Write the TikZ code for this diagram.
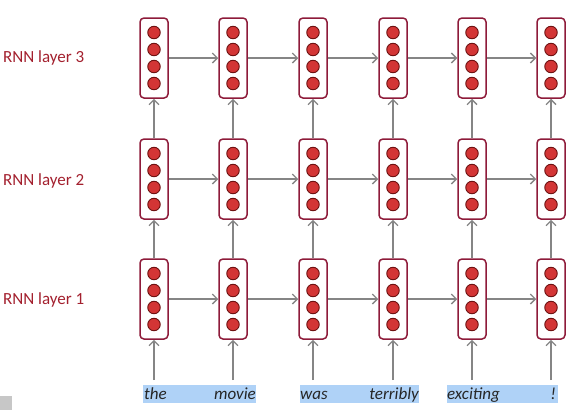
\documentclass[tikz,border=0pt]{standalone}
\usepackage{fontspec}
\setmainfont{Carlito}
\usetikzlibrary{arrows.meta}
\definecolor{boxred}{HTML}{8E1B3A}
\definecolor{dotred}{HTML}{D33535}
\definecolor{dotedge}{HTML}{6E1212}
\definecolor{labred}{HTML}{A3202E}
\definecolor{arrgray}{HTML}{858585}
\definecolor{hlblue}{HTML}{AFD2F7}
\tikzset{
  cellbox/.style={draw=boxred, line width=1.5pt, rounded corners=4pt, fill=white,
    minimum width=28pt, minimum height=80pt, inner sep=0pt},
  dot/.style={circle, draw=dotedge, line width=0.9pt, fill=dotred, minimum size=12.5pt, inner sep=0pt},
  conn/.style={draw=arrgray, line width=1.3pt, -{Straight Barb[length=5pt,width=10pt]}},
  layerlab/.style={text=labred, font=\fontsize{17}{19}\selectfont, anchor=west, inner sep=0pt},
  word/.style={font=\fontsize{17}{19}\selectfont\itshape, inner sep=0pt, text=black!85},
  hl/.style={fill=hlblue, draw=none}
}
\begin{document}
\begin{tikzpicture}[x=1pt,y=-1pt]
\useasboundingbox (0,0) rectangle (582,410);
% highlight bars
\fill[hlblue] (143,385) rectangle (256,403);
\fill[hlblue] (300,385) rectangle (419,403);
\fill[hlblue] (447,385) rectangle (558,403);
% words
\node[word, anchor=base west] (w1) at (144,399) {the};
\node[word, anchor=base east] (w2) at (256,399) {movie};
\node[word, anchor=base west] (w3) at (300,399) {was};
\node[word, anchor=base east] (w4) at (419,399) {terribly};
\node[word, anchor=base west] (w5) at (447,399) {exciting};
\node[word, anchor=base east] (w6) at (556,399) {!};
% layer labels
\node[layerlab] (l3) at (3,58) {RNN layer 3};
\node[layerlab] (l2) at (3,181) {RNN layer 2};
\node[layerlab] (l1) at (3,300) {RNN layer 1};
% boxes
\foreach \c/\x in {1/154,2/233,3/313,4/393,5/472,6/551}{
  \foreach \l/\y in {1/299,2/179,3/58}{
    \node[cellbox] (b\l\c) at (\x,\y) {};
    \foreach \k/\dy in {1/-25.5,2/-8.5,3/8.5,4/25.5}{
      \node[dot] (d\l\c\k) at (\x,\y+\dy) {};
    }
  }
  \coordinate (in\c) at (\x,380);
  \draw[conn] (in\c) -- (b1\c.south);
  \draw[conn] (b1\c.north) -- (b2\c.south);
  \draw[conn] (b2\c.north) -- (b3\c.south);
}
\foreach \l in {1,2,3}{
  \foreach \c [evaluate=\c as \n using int(\c+1)] in {1,...,5}{
    \draw[conn] (b\l\c.east) -- (b\l\n.west);
  }
}
% small grey square
\fill[black!22] (0,396) rectangle (12,410);
\end{tikzpicture}
\end{document}
